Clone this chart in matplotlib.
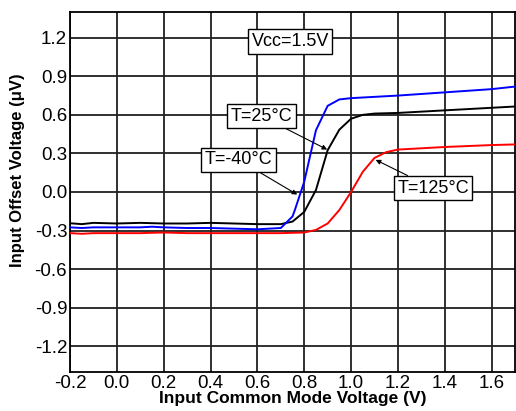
"""Input offset voltage vs input common mode voltage, Vcc=1.5V."""

import matplotlib
matplotlib.use("Agg")
import matplotlib.pyplot as plt

plt.rcParams["font.family"] = ["Liberation Sans", "DejaVu Sans"]

# Input common mode voltage (V) and offset (uV) for each temperature
vcm_neg40 = [-0.2, -0.15, -0.1, 0.0, 0.1, 0.15, 0.2, 0.3, 0.4, 0.5, 0.6, 0.7,
             0.75, 0.76, 0.8, 0.85, 0.9, 0.95, 1.0, 1.2, 1.44, 1.6, 1.7]
vos_neg40 = [-0.275, -0.28, -0.275, -0.275, -0.275, -0.27, -0.275, -0.28, -0.28,
             -0.285, -0.29, -0.28, -0.19, -0.14, 0.08, 0.48, 0.67, 0.72, 0.73,
             0.75, 0.78, 0.80, 0.82]

vcm_25 = [-0.2, -0.15, -0.1, 0.0, 0.1, 0.2, 0.3, 0.4, 0.5, 0.6, 0.7, 0.75,
          0.8, 0.85, 0.9, 0.95, 1.0, 1.05, 1.1, 1.2, 1.4, 1.6, 1.7]
vos_25 = [-0.243, -0.25, -0.24, -0.245, -0.24, -0.245, -0.245, -0.24, -0.245,
          -0.25, -0.25, -0.23, -0.155, 0.015, 0.325, 0.485, 0.57, 0.60, 0.61,
          0.615, 0.635, 0.655, 0.665]

vcm_125 = [-0.2, -0.15, -0.1, 0.0, 0.1, 0.2, 0.3, 0.4, 0.5, 0.6, 0.7, 0.8,
           0.85, 0.9, 0.95, 1.0, 1.05, 1.1, 1.15, 1.2, 1.4, 1.6, 1.7]
vos_125 = [-0.32, -0.325, -0.32, -0.32, -0.32, -0.315, -0.32, -0.32, -0.32,
           -0.32, -0.32, -0.315, -0.295, -0.245, -0.14, 0.0, 0.157, 0.265,
           0.31, 0.33, 0.35, 0.365, 0.37]

x_ticks = [-0.2, 0.0, 0.2, 0.4, 0.6, 0.8, 1.0, 1.2, 1.4, 1.6]
y_ticks = [-1.2, -0.9, -0.6, -0.3, 0.0, 0.3, 0.6, 0.9, 1.2]

fig = plt.figure(figsize=(5.16, 4.11), dpi=100)
ax = fig.add_axes([0.1357, 0.0949, 0.8624, 0.8759])

ax.plot(vcm_25, vos_25, color="black", lw=1.4, zorder=3)
ax.plot(vcm_neg40, vos_neg40, color="#0000ff", lw=1.4, zorder=3)
ax.plot(vcm_125, vos_125, color="#ff0000", lw=1.4, zorder=3)

ax.set_xlim(-0.2, 1.7)
ax.set_ylim(-1.4, 1.4)
ax.set_xticks(x_ticks)
ax.set_xticklabels([f"{v:.1f}" for v in x_ticks])
ax.set_yticks(y_ticks)
ax.set_yticklabels([f"{v:.1f}" for v in y_ticks])
ax.tick_params(length=0, labelsize=13.5, pad=2)
ax.grid(True, color="#202020", lw=1.3)
for s in ax.spines.values():
    s.set_linewidth(1.3)

ax.set_xlabel("Input Common Mode Voltage (V)", fontsize=12.5, fontweight="bold")
ax.set_ylabel("Input Offset Voltage (\u03bcV)", fontsize=12, fontweight="bold")
ax.xaxis.set_label_coords(0.5, -0.052)
ax.yaxis.set_label_coords(-0.101, 0.561)

box = dict(boxstyle="square,pad=0.2", fc="white", ec="black", lw=1)
arrow = dict(arrowstyle="-|>", color="black", lw=0.8, mutation_scale=7, shrinkA=0, shrinkB=0)

ax.text(0.74, 1.17, "Vcc=1.5V", fontsize=13, ha="center", va="center", bbox=box, zorder=5)
ax.annotate("T=25\u00b0C", xy=(0.898, 0.33), xytext=(0.617, 0.59), fontsize=13,
            ha="center", va="center", bbox=box, arrowprops=arrow, zorder=5)
ax.annotate("T=-40\u00b0C", xy=(0.77, -0.02), xytext=(0.52, 0.25), fontsize=13,
            ha="center", va="center", bbox=box, arrowprops=arrow, zorder=5)
ax.annotate("T=125\u00b0C", xy=(1.105, 0.25), xytext=(1.35, 0.03), fontsize=13,
            ha="center", va="center", bbox=box, arrowprops=arrow, zorder=5)

fig.savefig("out.png", dpi=100)
